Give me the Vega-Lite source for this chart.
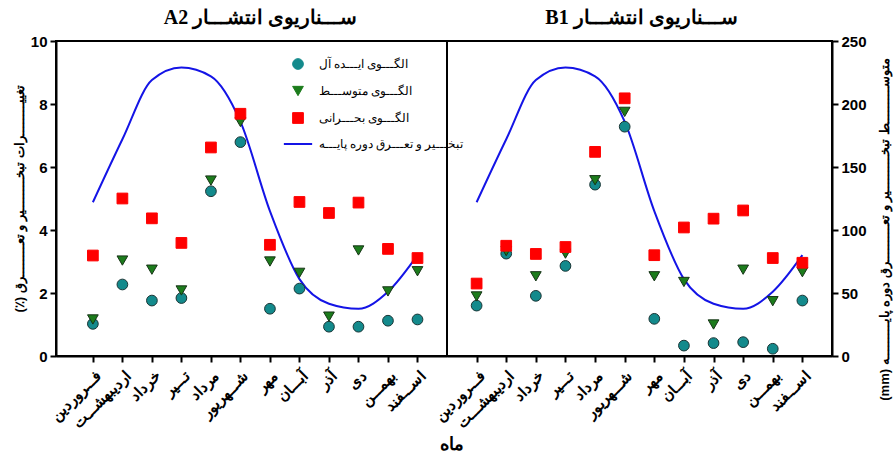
{
  "$schema": "https://vega.github.io/schema/vega-lite/v6.json",
  "background": "white",
  "padding": {"left": 12, "top": 7, "right": 2, "bottom": 3},
  "spacing": 0,
  "bounds": "flush",
  "title": {"text": "ماه", "orient": "bottom", "anchor": "middle", "font": "Liberation Sans", "fontSize": 18, "fontWeight": "bold", "color": "black", "offset": 4},
  "datasets": {
    "base": [
      {"month": 1, "series": "تبخیر و تعرق دوره پایه", "mm": 122},
      {"month": 2, "series": "تبخیر و تعرق دوره پایه", "mm": 172},
      {"month": 3, "series": "تبخیر و تعرق دوره پایه", "mm": 219},
      {"month": 4, "series": "تبخیر و تعرق دوره پایه", "mm": 229},
      {"month": 5, "series": "تبخیر و تعرق دوره پایه", "mm": 222},
      {"month": 6, "series": "تبخیر و تعرق دوره پایه", "mm": 186},
      {"month": 7, "series": "تبخیر و تعرق دوره پایه", "mm": 115},
      {"month": 8, "series": "تبخیر و تعرق دوره پایه", "mm": 61},
      {"month": 9, "series": "تبخیر و تعرق دوره پایه", "mm": 41.5},
      {"month": 10, "series": "تبخیر و تعرق دوره پایه", "mm": 37.5},
      {"month": 11, "series": "تبخیر و تعرق دوره پایه", "mm": 51},
      {"month": 12, "series": "تبخیر و تعرق دوره پایه", "mm": 80}
    ],
    "pts": [
      {"scenario": "A2", "month": 1, "series": "الگوی ایده آل", "pct": 1.02},
      {"scenario": "A2", "month": 2, "series": "الگوی ایده آل", "pct": 2.27},
      {"scenario": "A2", "month": 3, "series": "الگوی ایده آل", "pct": 1.76},
      {"scenario": "A2", "month": 4, "series": "الگوی ایده آل", "pct": 1.84},
      {"scenario": "A2", "month": 5, "series": "الگوی ایده آل", "pct": 5.23},
      {"scenario": "A2", "month": 6, "series": "الگوی ایده آل", "pct": 6.79},
      {"scenario": "A2", "month": 7, "series": "الگوی ایده آل", "pct": 1.5},
      {"scenario": "A2", "month": 8, "series": "الگوی ایده آل", "pct": 2.14},
      {"scenario": "A2", "month": 9, "series": "الگوی ایده آل", "pct": 0.93},
      {"scenario": "A2", "month": 10, "series": "الگوی ایده آل", "pct": 0.93},
      {"scenario": "A2", "month": 11, "series": "الگوی ایده آل", "pct": 1.12},
      {"scenario": "A2", "month": 12, "series": "الگوی ایده آل", "pct": 1.16},
      {"scenario": "A2", "month": 1, "series": "الگوی متوسط", "pct": 1.16},
      {"scenario": "A2", "month": 2, "series": "الگوی متوسط", "pct": 3.03},
      {"scenario": "A2", "month": 3, "series": "الگوی متوسط", "pct": 2.74},
      {"scenario": "A2", "month": 4, "series": "الگوی متوسط", "pct": 2.08},
      {"scenario": "A2", "month": 5, "series": "الگوی متوسط", "pct": 5.57},
      {"scenario": "A2", "month": 6, "series": "الگوی متوسط", "pct": 7.43},
      {"scenario": "A2", "month": 7, "series": "الگوی متوسط", "pct": 3.0},
      {"scenario": "A2", "month": 8, "series": "الگوی متوسط", "pct": 2.64},
      {"scenario": "A2", "month": 9, "series": "الگوی متوسط", "pct": 1.25},
      {"scenario": "A2", "month": 10, "series": "الگوی متوسط", "pct": 3.35},
      {"scenario": "A2", "month": 11, "series": "الگوی متوسط", "pct": 2.05},
      {"scenario": "A2", "month": 12, "series": "الگوی متوسط", "pct": 2.69},
      {"scenario": "A2", "month": 1, "series": "الگوی بحرانی", "pct": 3.19},
      {"scenario": "A2", "month": 2, "series": "الگوی بحرانی", "pct": 5.0},
      {"scenario": "A2", "month": 3, "series": "الگوی بحرانی", "pct": 4.37},
      {"scenario": "A2", "month": 4, "series": "الگوی بحرانی", "pct": 3.59},
      {"scenario": "A2", "month": 5, "series": "الگوی بحرانی", "pct": 6.62},
      {"scenario": "A2", "month": 6, "series": "الگوی بحرانی", "pct": 7.69},
      {"scenario": "A2", "month": 7, "series": "الگوی بحرانی", "pct": 3.53},
      {"scenario": "A2", "month": 8, "series": "الگوی بحرانی", "pct": 4.89},
      {"scenario": "A2", "month": 9, "series": "الگوی بحرانی", "pct": 4.54},
      {"scenario": "A2", "month": 10, "series": "الگوی بحرانی", "pct": 4.87},
      {"scenario": "A2", "month": 11, "series": "الگوی بحرانی", "pct": 3.4},
      {"scenario": "A2", "month": 12, "series": "الگوی بحرانی", "pct": 3.11},
      {"scenario": "B1", "month": 1, "series": "الگوی ایده آل", "pct": 1.6},
      {"scenario": "B1", "month": 2, "series": "الگوی ایده آل", "pct": 3.25},
      {"scenario": "B1", "month": 3, "series": "الگوی ایده آل", "pct": 1.91},
      {"scenario": "B1", "month": 4, "series": "الگوی ایده آل", "pct": 2.86},
      {"scenario": "B1", "month": 5, "series": "الگوی ایده آل", "pct": 5.44},
      {"scenario": "B1", "month": 6, "series": "الگوی ایده آل", "pct": 7.28},
      {"scenario": "B1", "month": 7, "series": "الگوی ایده آل", "pct": 1.18},
      {"scenario": "B1", "month": 8, "series": "الگوی ایده آل", "pct": 0.33},
      {"scenario": "B1", "month": 9, "series": "الگوی ایده آل", "pct": 0.41},
      {"scenario": "B1", "month": 10, "series": "الگوی ایده آل", "pct": 0.44},
      {"scenario": "B1", "month": 11, "series": "الگوی ایده آل", "pct": 0.23},
      {"scenario": "B1", "month": 12, "series": "الگوی ایده آل", "pct": 1.76},
      {"scenario": "B1", "month": 1, "series": "الگوی متوسط", "pct": 1.89},
      {"scenario": "B1", "month": 2, "series": "الگوی متوسط", "pct": 3.33},
      {"scenario": "B1", "month": 3, "series": "الگوی متوسط", "pct": 2.53},
      {"scenario": "B1", "month": 4, "series": "الگوی متوسط", "pct": 3.25},
      {"scenario": "B1", "month": 5, "series": "الگوی متوسط", "pct": 5.58},
      {"scenario": "B1", "month": 6, "series": "الگوی متوسط", "pct": 7.75},
      {"scenario": "B1", "month": 7, "series": "الگوی متوسط", "pct": 2.53},
      {"scenario": "B1", "month": 8, "series": "الگوی متوسط", "pct": 2.35},
      {"scenario": "B1", "month": 9, "series": "الگوی متوسط", "pct": 1.0},
      {"scenario": "B1", "month": 10, "series": "الگوی متوسط", "pct": 2.74},
      {"scenario": "B1", "month": 11, "series": "الگوی متوسط", "pct": 1.74},
      {"scenario": "B1", "month": 12, "series": "الگوی متوسط", "pct": 2.66},
      {"scenario": "B1", "month": 1, "series": "الگوی بحرانی", "pct": 2.3},
      {"scenario": "B1", "month": 2, "series": "الگوی بحرانی", "pct": 3.5},
      {"scenario": "B1", "month": 3, "series": "الگوی بحرانی", "pct": 3.24},
      {"scenario": "B1", "month": 4, "series": "الگوی بحرانی", "pct": 3.46},
      {"scenario": "B1", "month": 5, "series": "الگوی بحرانی", "pct": 6.48},
      {"scenario": "B1", "month": 6, "series": "الگوی بحرانی", "pct": 8.18},
      {"scenario": "B1", "month": 7, "series": "الگوی بحرانی", "pct": 3.2},
      {"scenario": "B1", "month": 8, "series": "الگوی بحرانی", "pct": 4.08},
      {"scenario": "B1", "month": 9, "series": "الگوی بحرانی", "pct": 4.36},
      {"scenario": "B1", "month": 10, "series": "الگوی بحرانی", "pct": 4.62},
      {"scenario": "B1", "month": 11, "series": "الگوی بحرانی", "pct": 3.11},
      {"scenario": "B1", "month": 12, "series": "الگوی بحرانی", "pct": 2.96}
    ]
  },
  "resolve": {"scale": {"color": "independent", "shape": "independent", "stroke": "independent"}, "legend": {"color": "independent", "shape": "independent", "stroke": "independent"}},
  "hconcat": [
    {
      "width": 391,
      "height": 315,
      "title": {"text": "\u202bســـناریوی انتشـــار A2\u202c", "font": "Liberation Serif", "fontSize": 20, "fontWeight": "bold", "color": "black", "anchor": "middle", "offset": 6, "dx": 9},
      "layer": [
        {
          "data": {"name": "base"},
          "mark": {"type": "line", "interpolate": "monotone", "strokeWidth": 2},
          "encoding": {
            "x": {"field": "month", "type": "quantitative", "scale": {"domain": [-0.25, 13], "nice": false, "zero": false},
                  "axis": {"values": [1,2,3,4,5,6,7,8,9,10,11,12], "title": null, "labelAngle": -45, "labelFontSize": 15, "labelPadding": 6, "labelOverlap": false, "labelFlush": false, "labelBound": false,
                           "labelExpr": "['فـــروردین','اردیبهشـــت','خرداد','تـــیر','مرداد','شـــهریور','مهر','آبـــان','آذر','دی','بهمـــن','اســـفند'][datum.value - 1]"}},
            "y": {"field": "mm", "type": "quantitative", "scale": {"domain": [0, 250], "nice": false}, "axis": null},
            "color": {"field": "series", "type": "nominal",
                      "scale": {"domain": ["الگوی ایده آل", "الگوی متوسط", "الگوی بحرانی", "تبخیر و تعرق دوره پایه"], "range": ["#138a8c", "#1c7c1c", "#ff0000", "#1414e6"]},
                      "legend": {"title": null, "labelExpr": "datum.index === 0 ? 'الگـــوی ایـــده آل' : datum.index === 1 ? 'الگـــوی متوســـط' : datum.index === 2 ? 'الگـــوی بحـــرانی' : 'تبخـــیر و تعـــرق دوره پایـــه'", "encode": {"symbols": {"update": {"size": {"signal": "datum.value === 'تبخیر و تعرق دوره پایه' ? 800 : 115"}, "strokeWidth": {"signal": "datum.value === 'تبخیر و تعرق دوره پایه' ? 2 : 1"}}}}}}
          }
        },
        {
          "data": {"name": "pts"},
          "transform": [{"filter": "datum.scenario === 'A2'"}],
          "mark": {"type": "point", "filled": true, "opacity": 1, "size": 115, "strokeWidth": 1},
          "encoding": {
            "x": {"field": "month", "type": "quantitative",
                  "axis": {"values": [1,2,3,4,5,6,7,8,9,10,11,12], "title": null, "labelAngle": -45, "labelFontSize": 15, "labelPadding": 6, "labelOverlap": false, "labelFlush": false, "labelBound": false,
                           "labelExpr": "['فـــروردین','اردیبهشـــت','خرداد','تـــیر','مرداد','شـــهریور','مهر','آبـــان','آذر','دی','بهمـــن','اســـفند'][datum.value - 1]"}},
            "y": {"field": "pct", "type": "quantitative", "scale": {"domain": [0, 10], "nice": false},
                  "axis": {"values": [0,2,4,6,8,10], "title": "\u202bتغییــــــــرات تبخــــــــیر و تعــــــــرق (٪)\u202c", "labelFontSize": 15, "titleFontSize": 13, "titlePadding": 4}},
            "color": {"field": "series", "type": "nominal",
                      "scale": {"domain": ["الگوی ایده آل", "الگوی متوسط", "الگوی بحرانی", "تبخیر و تعرق دوره پایه"], "range": ["#138a8c", "#1c7c1c", "#ff0000", "#1414e6"]},
                      "legend": {"title": null, "labelExpr": "datum.index === 0 ? 'الگـــوی ایـــده آل' : datum.index === 1 ? 'الگـــوی متوســـط' : datum.index === 2 ? 'الگـــوی بحـــرانی' : 'تبخـــیر و تعـــرق دوره پایـــه'", "encode": {"symbols": {"update": {"size": {"signal": "datum.value === 'تبخیر و تعرق دوره پایه' ? 800 : 115"}, "strokeWidth": {"signal": "datum.value === 'تبخیر و تعرق دوره پایه' ? 2 : 1"}}}}}},
            "shape": {"field": "series", "type": "nominal",
                      "scale": {"domain": ["الگوی ایده آل", "الگوی متوسط", "الگوی بحرانی", "تبخیر و تعرق دوره پایه"], "range": ["circle", "triangle-down", "square", "stroke"]},
                      "legend": {"title": null, "labelExpr": "datum.index === 0 ? 'الگـــوی ایـــده آل' : datum.index === 1 ? 'الگـــوی متوســـط' : datum.index === 2 ? 'الگـــوی بحـــرانی' : 'تبخـــیر و تعـــرق دوره پایـــه'", "encode": {"symbols": {"update": {"size": {"signal": "datum.value === 'تبخیر و تعرق دوره پایه' ? 800 : 115"}, "strokeWidth": {"signal": "datum.value === 'تبخیر و تعرق دوره پایه' ? 2 : 1"}}}}}},
            "stroke": {"field": "series", "type": "nominal",
                       "scale": {"domain": ["الگوی ایده آل", "الگوی متوسط", "الگوی بحرانی", "تبخیر و تعرق دوره پایه"], "range": ["#1a3535", "#173417", "#ff0000", "#1414e6"]},
                       "legend": {"title": null, "labelExpr": "datum.index === 0 ? 'الگـــوی ایـــده آل' : datum.index === 1 ? 'الگـــوی متوســـط' : datum.index === 2 ? 'الگـــوی بحـــرانی' : 'تبخـــیر و تعـــرق دوره پایـــه'", "encode": {"symbols": {"update": {"size": {"signal": "datum.value === 'تبخیر و تعرق دوره پایه' ? 800 : 115"}, "strokeWidth": {"signal": "datum.value === 'تبخیر و تعرق دوره پایه' ? 2 : 1"}}}}}}
          }
        }
      ],
      "resolve": {"scale": {"y": "independent"}}
    },
    {
      "width": 385,
      "height": 315,
      "title": {"text": "\u202bســـناریوی انتشـــار B1\u202c", "font": "Liberation Serif", "fontSize": 20, "fontWeight": "bold", "color": "black", "anchor": "middle", "offset": 6, "dx": 2},
      "layer": [
        {
          "data": {"name": "base"},
          "mark": {"type": "line", "interpolate": "monotone", "strokeWidth": 2},
          "encoding": {
            "x": {"field": "month", "type": "quantitative", "scale": {"domain": [0, 13], "nice": false, "zero": false},
                  "axis": {"values": [1,2,3,4,5,6,7,8,9,10,11,12], "title": null, "labelAngle": -45, "labelFontSize": 15, "labelPadding": 6, "labelOverlap": false, "labelFlush": false, "labelBound": false,
                           "labelExpr": "['فـــروردین','اردیبهشـــت','خرداد','تـــیر','مرداد','شـــهریور','مهر','آبـــان','آذر','دی','بهمـــن','اســـفند'][datum.value - 1]"}},
            "y": {"field": "mm", "type": "quantitative", "scale": {"domain": [0, 250], "nice": false},
                  "axis": {"orient": "right", "values": [0,50,100,150,200,250], "title": "\u202bمتوســـــــــط تبخـــــــــیر و تعـــــــــرق دوره پایـــــــــه (mm)\u202c", "titleAngle": 270, "titleBaseline": "top", "titleY": 188, "labelFontSize": 15, "titleFontSize": 13, "titlePadding": 12}},
            "color": {"field": "series", "type": "nominal",
                      "scale": {"domain": ["الگوی ایده آل", "الگوی متوسط", "الگوی بحرانی", "تبخیر و تعرق دوره پایه"], "range": ["#138a8c", "#1c7c1c", "#ff0000", "#1414e6"]},
                      "legend": null}
          }
        },
        {
          "data": {"name": "pts"},
          "transform": [{"filter": "datum.scenario === 'B1'"}],
          "mark": {"type": "point", "filled": true, "opacity": 1, "size": 115, "strokeWidth": 1},
          "encoding": {
            "x": {"field": "month", "type": "quantitative",
                  "axis": {"values": [1,2,3,4,5,6,7,8,9,10,11,12], "title": null, "labelAngle": -45, "labelFontSize": 15, "labelPadding": 6, "labelOverlap": false, "labelFlush": false, "labelBound": false,
                           "labelExpr": "['فـــروردین','اردیبهشـــت','خرداد','تـــیر','مرداد','شـــهریور','مهر','آبـــان','آذر','دی','بهمـــن','اســـفند'][datum.value - 1]"}},
            "y": {"field": "pct", "type": "quantitative", "scale": {"domain": [0, 10], "nice": false}, "axis": null},
            "color": {"field": "series", "type": "nominal",
                      "scale": {"domain": ["الگوی ایده آل", "الگوی متوسط", "الگوی بحرانی", "تبخیر و تعرق دوره پایه"], "range": ["#138a8c", "#1c7c1c", "#ff0000", "#1414e6"]},
                      "legend": null},
            "shape": {"field": "series", "type": "nominal",
                      "scale": {"domain": ["الگوی ایده آل", "الگوی متوسط", "الگوی بحرانی", "تبخیر و تعرق دوره پایه"], "range": ["circle", "triangle-down", "square", "stroke"]},
                      "legend": null},
            "stroke": {"field": "series", "type": "nominal",
                       "scale": {"domain": ["الگوی ایده آل", "الگوی متوسط", "الگوی بحرانی", "تبخیر و تعرق دوره پایه"], "range": ["#1a3535", "#173417", "#ff0000", "#1414e6"]},
                       "legend": null}
          }
        }
      ],
      "resolve": {"scale": {"y": "independent"}}
    }
  ],
  "config": {
    "view": {"stroke": "black", "strokeWidth": 2},
    "axis": {"grid": false, "domainColor": "black", "domainWidth": 2, "tickColor": "black", "tickWidth": 2, "tickSize": 6,
             "labelFont": "Liberation Sans", "labelFontWeight": "bold", "labelColor": "black", "labelPadding": 3, "labelOverlap": false,
             "titleFont": "Liberation Sans", "titleFontWeight": "bold", "titleColor": "black"},
    "axisX": {"labelOverlap": false},
    "legend": {"orient": "none", "legendX": 236, "legendY": 17, "padding": 0, "symbolSize": 115,
               "labelFont": "Liberation Serif", "labelFontSize": 12, "labelColor": "black", "labelLimit": 300,
               "rowPadding": 12, "labelOffset": 15, "symbolStrokeWidth": 1,
               "symbolType": "circle"}
  }
}
